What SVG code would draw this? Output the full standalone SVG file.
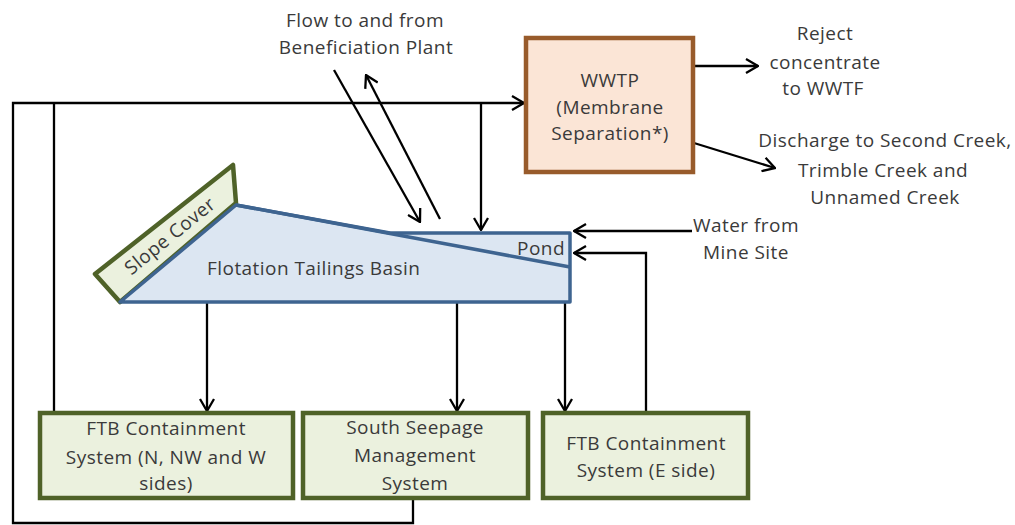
<svg xmlns="http://www.w3.org/2000/svg" width="1015" height="525" viewBox="0 0 1015 525">
  <style>
    text { font-family: "Open Sans", "Noto Sans", "Liberation Sans", sans-serif; font-size: 19px; letter-spacing: 0.45px; fill: #3a3a3a; }
    .c { text-anchor: middle; }
    .conn { fill: none; stroke: #000; stroke-width: 2.3; }
    .green { fill: #ebf1de; stroke: #4f6228; stroke-width: 4.5; }
    .basin { fill: #dce6f2; stroke: #3e6490; stroke-width: 3.5; stroke-linejoin: round; }
  </style>
  <defs>
    <marker id="arr" viewBox="0 0 14 16" refX="13" refY="8" markerWidth="14" markerHeight="16" markerUnits="userSpaceOnUse" orient="auto">
      <path d="M1,1 L13,8 L1,15" fill="none" stroke="#000" stroke-width="2.3"/>
    </marker>
  </defs>
  <rect width="1015" height="525" fill="#fff"/>

  <g id="connectors">
    <path class="conn" d="M413,498 V523 H13 V103 H524" marker-end="url(#arr)"/>
    <path class="conn" d="M54,413 V103"/>
    <path class="conn" d="M481,103 V230" marker-end="url(#arr)"/>
    <path class="conn" d="M334,70 L420,222" marker-end="url(#arr)"/>
    <path class="conn" d="M440,219 L366,75" marker-end="url(#arr)"/>
    <path class="conn" d="M694,66 H758" marker-end="url(#arr)"/>
    <path class="conn" d="M694,143 L775,168" marker-end="url(#arr)"/>
    <path class="conn" d="M692,231 H574" marker-end="url(#arr)"/>
    <path class="conn" d="M646,413 V253 H574" marker-end="url(#arr)"/>
    <path class="conn" d="M207,303 V411" marker-end="url(#arr)"/>
    <path class="conn" d="M457,303 V411" marker-end="url(#arr)"/>
    <path class="conn" d="M565,303 V411" marker-end="url(#arr)"/>
  </g>

  <g id="labels">
    <text class="c" x="365" y="27">Flow to and from</text>
    <text class="c" x="366" y="54">Beneficiation Plant</text>
    <text class="c" x="825" y="40">Reject</text>
    <text class="c" x="825" y="69">concentrate</text>
    <text class="c" x="823" y="95">to WWTF</text>
    <text class="c" x="885" y="147">Discharge to Second Creek,</text>
    <text class="c" x="883" y="177">Trimble Creek and</text>
    <text class="c" x="885" y="204">Unnamed Creek</text>
    <text class="c" x="746" y="232">Water from</text>
    <text class="c" x="746" y="259">Mine Site</text>
  </g>

  <g id="slope-cover">
    <polygon class="green" points="95,274 233,165 236,203 120,302" stroke-width="3.5" stroke-linejoin="round"/>
    <text class="c" transform="translate(174,241) rotate(-39)">Slope Cover</text>
  </g>

  <g id="basin">
    <polygon class="basin" points="120,302 236,205 390,233 570,233 570,302"/>
    <line x1="236" y1="205" x2="570" y2="267" stroke="#3e6490" stroke-width="3.5"/>
    <text x="207" y="275">Flotation Tailings Basin</text>
  </g>

  <g id="pond">
    <text x="565" y="255" text-anchor="end">Pond</text>
  </g>

  <g id="wwtp">
    <rect x="526" y="38" width="167" height="134" fill="#fbe5d6" stroke="#985b2b" stroke-width="4.5"/>
    <text class="c" x="610" y="87">WWTP</text>
    <text class="c" x="610" y="114">(Membrane</text>
    <text class="c" x="610" y="140">Separation*)</text>
  </g>

  <g id="ftb-nw">
    <rect class="green" x="40" y="413" width="253" height="85"/>
    <text class="c" x="166" y="435">FTB Containment</text>
    <text class="c" x="166" y="464">System (N, NW and W</text>
    <text class="c" x="166" y="490">sides)</text>
  </g>

  <g id="south-seepage">
    <rect class="green" x="303" y="413" width="225" height="85"/>
    <text class="c" x="415" y="434">South Seepage</text>
    <text class="c" x="415" y="462">Management</text>
    <text class="c" x="415" y="490">System</text>
  </g>

  <g id="ftb-e">
    <rect class="green" x="543" y="413" width="205" height="85"/>
    <text class="c" x="646" y="450">FTB Containment</text>
    <text class="c" x="646" y="477">System (E side)</text>
  </g>
</svg>
